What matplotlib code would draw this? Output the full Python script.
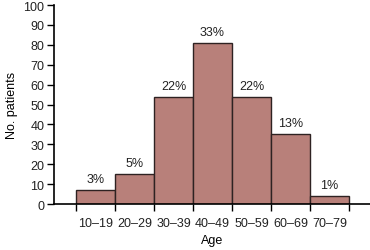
import matplotlib
matplotlib.use('Agg')
import matplotlib.pyplot as plt
import numpy as np

ages = ['10–19', '20–29', '30–39', '40–49', '50–59', '60–69', '70–79']
patients = [7, 15, 54, 81, 54, 35, 4]
percent = ['3%', '5%', '22%', '33%', '22%', '13%', '1%']

plt.rcParams['font.family'] = ['Liberation Sans', 'DejaVu Sans']
plt.rcParams['font.size'] = 9
plt.rcParams['text.color'] = '#222222'
plt.rcParams['xtick.labelcolor'] = '#222222'
plt.rcParams['ytick.labelcolor'] = '#222222'

fig = plt.figure(figsize=(3.7, 2.51), dpi=100)
ax = fig.add_axes([0.146, 0.183, 0.854, 0.793])

x = np.arange(len(ages))
ax.bar(x, patients, width=1.0, color='#b8807a', edgecolor='#2e2222', linewidth=1.0)
for xi, h, p in zip(x, patients, percent):
    ax.text(xi, h + 2.5, p, ha='center', va='bottom')

ax.set_xlim(-1.064, 7.04)
ax.set_ylim(0, 100)
ax.set_yticks(range(0, 101, 10))

# ticks on the bar edges, labels under the bar centres
ax.set_xticks(np.arange(-0.5, 7.0, 1.0))
ax.set_xticklabels([])
ax.set_xticks(x, minor=True)
ax.set_xticklabels(ages, minor=True)
ax.tick_params(axis='x', which='minor', length=0, pad=9)
ax.tick_params(axis='x', which='major', length=5, width=1)
ax.tick_params(axis='y', length=5, width=1, pad=2)

for s in ['top', 'right']:
    ax.spines[s].set_visible(False)
for s in ['left', 'bottom']:
    ax.spines[s].set_linewidth(1.2)

ax.set_xlabel('Age', labelpad=4)
ax.set_ylabel('No. patients', labelpad=4)

fig.savefig('out.png', dpi=100)
